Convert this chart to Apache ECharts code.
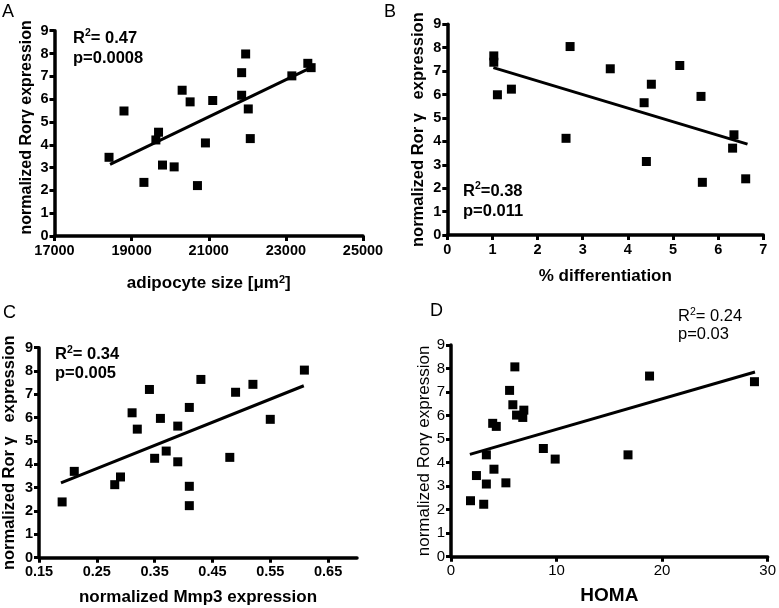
<!DOCTYPE html>
<html>
<head>
<meta charset="utf-8">
<script src="https://cdn.jsdelivr.net/npm/echarts@6/dist/echarts.min.js"></script>
<style>html,body{margin:0;padding:0;background:#fff}#c{width:779px;height:608px}</style>
</head>
<body>
<div id="c"></div>
<script>
// Panel A: adipocyte size vs Ror gamma
const aX = [18414,18802,19319,19629,19698,19800,20103,20310,20517,20707,20914,21103,21853,21853,21957,22025,22077,23155,23569,23655];
const aY = [3.45,5.48,2.35,4.21,4.55,3.11,3.03,6.39,5.88,2.21,4.08,5.94,7.16,6.17,7.98,5.57,4.27,7.02,7.57,7.38];
const aLineX = [18440,23611];
const aLineY = [3.14,7.35];
const aTicks = [17000,19000,21000,23000,25000];
// Panel B: % differentiation
const bX = [1.03,1.03,1.11,1.42,2.63,2.72,3.61,4.36,4.41,4.52,5.15,5.62,5.65,6.35,6.32,6.61];
const bY = [7.65,7.38,5.99,6.23,4.13,8.05,7.10,5.65,3.14,6.44,7.24,5.92,2.25,4.28,3.71,2.40];
const bLineX = [1.02,6.65];
const bLineY = [7.15,3.88];
// Panel C: Mmp3
const cX = [0.190,0.211,0.281,0.291,0.311,0.320,0.341,0.350,0.360,0.370,0.390,0.390,0.410,0.410,0.410,0.430,0.480,0.490,0.520,0.550,0.609];
const cY = [2.39,3.70,3.13,3.46,6.21,5.51,7.21,4.26,5.97,4.57,5.64,4.11,6.44,3.06,2.23,7.64,4.30,7.09,7.43,5.93,8.04];
const cLineX = [0.188,0.608];
const cLineY = [3.21,7.37];
const cTicks = [0.15,0.25,0.35,0.45,0.55,0.65];
// Panel D: HOMA
const dX = [1.85,2.41,3.10,3.35,3.35,4.07,3.95,4.29,5.20,5.55,5.86,6.05,6.21,6.80,6.90,8.75,9.87,16.77,18.81,28.75];
const dY = [2.38,3.45,2.23,3.09,4.33,3.72,5.67,5.54,3.14,7.07,6.46,8.07,6.02,5.92,6.23,4.60,4.15,4.33,7.68,7.44];
const dLineX = [1.79,28.8];
const dLineY = [4.35,7.85];

const yTitle1 = 'normalized Rorγ expression';
const yTitle2 = 'normalized Ror γ   expression';

const FONT = '"Liberation Sans", Arial, Helvetica, sans-serif';
const zip = (xs, ys) => xs.map((x, i) => [x, ys[i]]);

const grids = [
  {left: 54.5, top: 30.7, width: 308.5, height: 205.3},
  {left: 447.3, top: 24.3, width: 316, height: 210.7},
  {left: 39, top: 347.7, width: 318, height: 210},
  {left: 451, top: 345, width: 319, height: 211.7}
];

function lab(o) {
  return Object.assign({fontFamily: FONT, fontSize: 14.5, fontWeight: 'bold', color: '#000', margin: 7}, o);
}
function tick(o) {
  return Object.assign({show: true, inside: false, length: 5, lineStyle: {color: '#000', width: 3}}, o);
}
function xAxis(i, o) {
  return Object.assign({
    type: 'value', gridIndex: i,
    nameLocation: 'middle',
    nameTextStyle: {fontFamily: FONT, fontSize: 17, fontWeight: 'bold', color: '#000',
      rich: {sup: {fontSize: 11, fontWeight: 'bold', fontFamily: FONT, color: '#000', padding: [0,0,8,0]}}},
    axisLine: {show: true, onZero: false, lineStyle: {color: '#000', width: 3.5}},
    axisTick: tick({}),
    axisLabel: lab({}),
    splitLine: {show: false}
  }, o);
}
function yAxis(i, o) {
  return Object.assign({
    type: 'value', gridIndex: i, min: 0, max: 9, interval: 1,
    nameLocation: 'middle', nameRotate: 90,
    nameTextStyle: {fontFamily: FONT, fontSize: 16, fontWeight: 'bold', color: '#000'},
    axisLine: {show: true, onZero: false, lineStyle: {color: '#000', width: 3.5}},
    axisTick: tick({}),
    axisLabel: lab({margin: 6}),
    splitLine: {show: false}
  }, o);
}

const xAxes = [
  xAxis(0, {min: 17000, max: 25000, interval: 1000, name: 'adipocyte size [μm{sup|2}]', nameGap: 38,
    axisTick: tick({customValues: aTicks}),
    axisLabel: lab({customValues: aTicks, formatter: v => String(v)})}),
  xAxis(1, {min: 0, max: 7, interval: 1, name: '% differentiation', nameGap: 33}),
  xAxis(2, {min: 0.15, max: 0.70, interval: 0.05, name: 'normalized Mmp3 expression', nameGap: 31,
    axisTick: tick({customValues: cTicks}),
    axisLabel: lab({customValues: cTicks, formatter: v => v.toFixed(2)})}),
  xAxis(3, {min: 0, max: 30, interval: 10, name: 'HOMA', nameGap: 30,
    nameTextStyle: {fontFamily: FONT, fontSize: 19, fontWeight: 'bold', color: '#000'},
    axisLabel: lab({fontSize: 15, fontWeight: 'normal'})})
];
const yAxes = [
  yAxis(0, {name: yTitle1, nameGap: 20,
    nameTextStyle: {fontFamily: FONT, fontSize: 16, fontWeight: 'bold', color: '#000', padding: [0,0,0,12]}}),
  yAxis(1, {name: yTitle2, nameGap: 20,
    nameTextStyle: {fontFamily: FONT, fontSize: 16.5, fontWeight: 'bold', color: '#000'}}),
  yAxis(2, {name: yTitle2, nameGap: 21,
    nameTextStyle: {fontFamily: FONT, fontSize: 16.5, fontWeight: 'bold', color: '#000'}}),
  yAxis(3, {name: yTitle1, nameGap: 18,
    nameTextStyle: {fontFamily: FONT, fontSize: 17, fontWeight: 'normal', color: '#000'},
    axisLabel: lab({fontSize: 15, fontWeight: 'normal', margin: 6})})
];

const pts = [[aX,aY],[bX,bY],[cX,cY],[dX,dY]];
const lines = [[aLineX,aLineY],[bLineX,bLineY],[cLineX,cLineY],[dLineX,dLineY]];
const series = [];
pts.forEach((p, i) => {
  series.push({type: 'scatter', xAxisIndex: i, yAxisIndex: i, symbol: 'rect', symbolSize: 9,
    itemStyle: {color: '#000', opacity: 1}, data: zip(p[0], p[1]), z: 3});
  series.push({type: 'line', xAxisIndex: i, yAxisIndex: i, symbol: 'none',
    lineStyle: {color: '#000', width: 3}, data: zip(lines[i][0], lines[i][1]), z: 4});
});

function letter(t, x, y) {
  return {type: 'text', left: x, top: y, style: {text: t, font: '18px ' + FONT, fill: '#000'}};
}
function stat(r, p, x, y, bold, gap) {
  const w = bold ? 'bold' : 'normal';
  return {type: 'text', left: x, top: y, style: {
    text: '{a|R}{s|2}{a|' + r + '}\n{a|' + p + '}',
    rich: {
      a: {fontFamily: FONT, fontSize: 16.5, fontWeight: w, fill: '#000', lineHeight: gap},
      s: {fontFamily: FONT, fontSize: 10.5, fontWeight: w, fill: '#000', lineHeight: gap, verticalAlign: 'top', padding: [0,0,10,0]}
    }
  }};
}

const chart = echarts.init(document.getElementById('c'), null, {renderer: 'canvas'});
chart.setOption({
  backgroundColor: '#fff',
  animation: false,
  grid: grids,
  xAxis: xAxes,
  yAxis: yAxes,
  series: series,
  graphic: [
    letter('A', 2, 3),
    letter('B', 384, 3),
    letter('C', 3, 304),
    letter('D', 430, 302),
    stat('= 0.47', 'p=0.0008', 73, 28, true, 20),
    stat('=0.38', 'p=0.011', 463, 181, true, 20),
    stat('= 0.34', 'p=0.005', 55, 345, true, 19),
    stat('= 0.24', 'p=0.03', 678, 307, false, 18)
  ]
});
</script>
</body>
</html>
